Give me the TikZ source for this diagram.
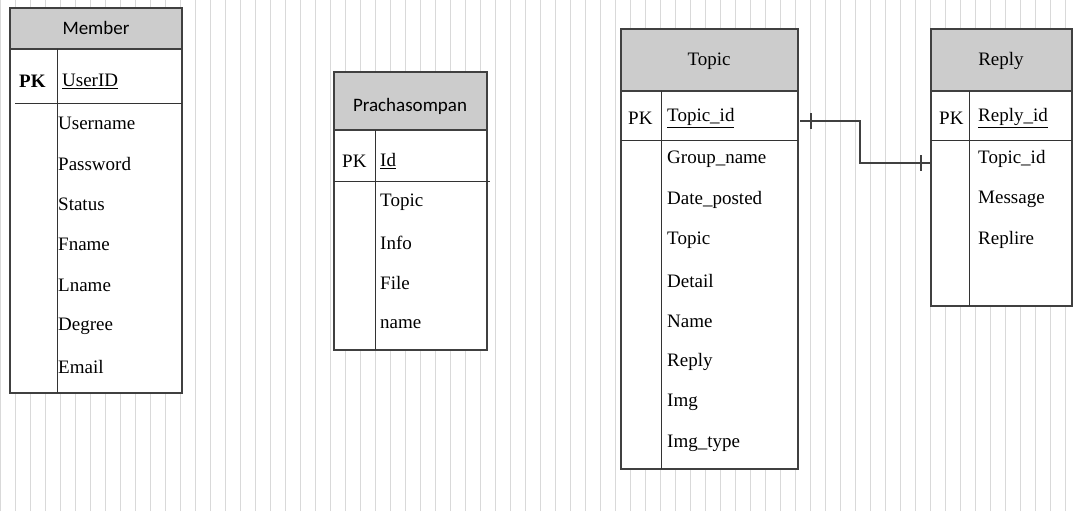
\documentclass[tikz,border=0pt]{standalone}
\usepackage{fontspec}
\setmainfont{Liberation Serif}
\newfontfamily\headfont{Carlito}
\begin{document}
\begin{tikzpicture}[x=1pt, y=-1pt]
    \tikzstyle{frame} = [draw=black!75, line width=1.1pt]
    \tikzstyle{head} = [frame, fill=black!20]
    \tikzstyle{title} = [font=\headfont\fontsize{19}{22}\selectfont]
    \tikzstyle{field} = [anchor=west, inner sep=0pt, font=\fontsize{19}{22}\selectfont]
    \tikzstyle{sep} = [draw=black!80, line width=0.8pt]

	\useasboundingbox (0,0) rectangle (1078,511);
	\draw[black!15, line width=0.6pt, step=15] (0,0) grid (1078,511);

	% Member
	\filldraw[frame, fill=white] (10,8) rectangle (182,393);
	\draw[head] (10,8) rectangle (182,49);
	\node[title] (member) at (96,28) {Member};
	\draw[sep] (15,103) -- (182,103);
	\draw[sep] (57,49) -- (57,393);
	\node[field, font=\bfseries\fontsize{19}{22}\selectfont] (mpk) at (19,81) {PK};
	\node[field] (muid) at (62,81) {\underline{UserID}};
	\foreach \t [count=\i from 0] in {Username,Password,Status,Fname,Lname,Degree,Email}
		\node[field] (m\i) at (58,123+40.6*\i) {\t};

	% Prachasompan
	\filldraw[frame, fill=white] (334,72) rectangle (487,350);
	\draw[head] (334,72) rectangle (487,130);
	\node[title] (pracha) at (410,106) {Prachasompan};
	\draw[sep] (334,181) -- (490,181);
	\draw[sep] (375,130) -- (375,350);
	\node[field] (ppk) at (342,161) {PK};
	\node[field] (pid) at (380,161) {\underline{Id}};
	\foreach \t [count=\i from 0] in {Topic,Info,File,name}
		\node[field] (p\i) at (380,202+40.6*\i) {\t};

	% Topic
	\filldraw[frame, fill=white] (621,29) rectangle (798,469);
	\draw[head] (621,29) rectangle (798,91);
	\node[field, anchor=center] (topic) at (709,61) {Topic};
	\draw[sep] (621,140) -- (798,140);
	\draw[sep] (661,91) -- (661,469);
	\node[field] (tpk) at (628,118) {PK};
	\node[field] (tid) at (667,118) {\underline{Topic\_id}};
	\foreach \t [count=\i from 0] in {Group\_name,Date\_posted,Topic,Detail,Name,Reply,Img,Img\_type}
		\node[field] (t\i) at (667,159+40.6*\i) {\t};

	% Reply
	\filldraw[frame, fill=white] (931,29) rectangle (1072,306);
	\draw[head] (931,29) rectangle (1072,91);
	\node[field, anchor=center] (reply) at (1001,61) {Reply};
	\draw[sep] (931,140) -- (1072,140);
	\draw[sep] (969,91) -- (969,306);
	\node[field] (rpk) at (939,118) {PK};
	\node[field] (rid) at (978,118) {\underline{Reply\_id}};
	\foreach \t [count=\i from 0] in {Topic\_id,Message,Replire}
		\node[field] (r\i) at (978,159+40.6*\i) {\t};

	% relation
	\coordinate (a) at (800,121);
	\coordinate (b) at (931,163);
	\draw[black!75, line width=1.6pt] (a) -- (860,121) |- (b);
	\draw[black!75, line width=1.3pt] (811,113) -- (811,129) (921,155) -- (921,171);
\end{tikzpicture}
\end{document}
